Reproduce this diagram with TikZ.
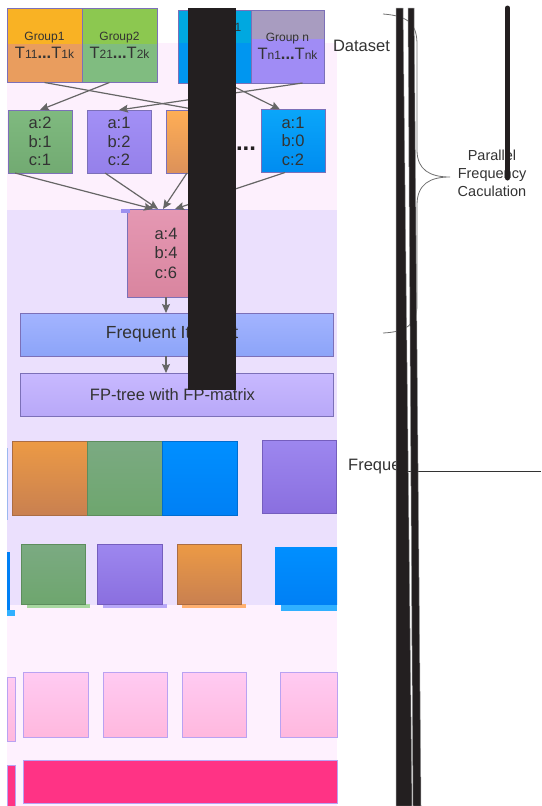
\documentclass[tikz,border=0pt]{standalone}
\usepackage{fontspec}
\setmainfont{Liberation Sans}
\usetikzlibrary{arrows.meta,calc}

\definecolor{txt}{HTML}{333333}
\definecolor{arrc}{HTML}{666666}
\definecolor{barc}{HTML}{231F20}
\definecolor{barline}{HTML}{909090}
\definecolor{bracec}{HTML}{707070}
\definecolor{bordc}{HTML}{7C70B8}
\definecolor{bgtop}{HTML}{FDF0FD}
\definecolor{bglav}{HTML}{EBE0FD}
\definecolor{bgbot}{HTML}{FEF1FE}
\definecolor{goldt}{HTML}{F9B224}
\definecolor{orgl}{HTML}{E99D5E}
\definecolor{grnt}{HTML}{8CC850}
\definecolor{grnl}{HTML}{80BC80}
\definecolor{cyant}{HTML}{00A8E0}
\definecolor{cyanl}{HTML}{0096F0}
\definecolor{grayt}{HTML}{A89CC0}
\definecolor{purl}{HTML}{A08CF5}
\definecolor{greent}{HTML}{7FBA7F}
\definecolor{greenb}{HTML}{72AA72}
\definecolor{violt}{HTML}{A290F6}
\definecolor{violb}{HTML}{9580EA}
\definecolor{oranget}{HTML}{FFAE55}
\definecolor{orangeb}{HTML}{DC915A}
\definecolor{bluet}{HTML}{0AA6FA}
\definecolor{blueb}{HTML}{008CF0}
\definecolor{pinkt}{HTML}{E598B3}
\definecolor{pinkb}{HTML}{D9859F}
\definecolor{markc}{HTML}{9C90F0}
\definecolor{fitop}{HTML}{A3B4FF}
\definecolor{fibot}{HTML}{8CA4F8}
\definecolor{fptop}{HTML}{C8B9FF}
\definecolor{fpbot}{HTML}{B8A8F8}
\definecolor{torg}{HTML}{EC9A45}
\definecolor{borg}{HTML}{C98050}
\definecolor{tgrn}{HTML}{7BAA82}
\definecolor{bgrn}{HTML}{6EA66E}
\definecolor{tblu}{HTML}{008FFF}
\definecolor{bblu}{HTML}{0080F5}
\definecolor{tvio}{HTML}{9D87EF}
\definecolor{bvio}{HTML}{8A6FDF}
\definecolor{edgec}{HTML}{9CB8F0}
\definecolor{sblu}{HTML}{30B0FF}
\definecolor{sgrn}{HTML}{A8D8A0}
\definecolor{svio}{HTML}{B8A8F8}
\definecolor{sorg}{HTML}{FFB070}
\definecolor{tilet}{HTML}{FFCBF2}
\definecolor{tileb}{HTML}{FFB8DE}
\definecolor{tileline}{HTML}{B9A2F2}
\definecolor{hotpink}{HTML}{FF3385}

\newcommand\grpsub[1]{{\fontsize{12}{14}\selectfont #1}}

\begin{document}
\begin{tikzpicture}[x=1pt,y=-1pt,
    box/.style={draw=#1, line width=0.7pt, inner sep=0pt, outer sep=0pt,
      text=txt, align=center, font=\fontsize{16.5}{18.5}\selectfont},
    box/.default=bordc,
    grp/.style n args={3}{box=bordc, fill=#2, minimum width=75pt, minimum height=74pt,
      path picture={\fill[#1] (path picture bounding box.north west)
        rectangle ([yshift=-#3pt]path picture bounding box.north east);}},
    cnt/.style 2 args={box, top color=#1, bottom color=#2, minimum width=64pt, minimum height=63pt},
    tile/.style 2 args={draw=#2!85!black, line width=0.7pt, top color=#1, bottom color=#2},
    arr/.style={draw=arrc, line width=1.2pt, -{Stealth[length=9pt,width=8pt,inset=1.5pt]}}]
  \useasboundingbox (0,0) rectangle (541,806);
  % backgrounds
  \fill[bgtop] (7,43) rectangle (337,210);
  \fill[bglav] (7,210) rectangle (337,605);
  \fill[bgbot] (7,605) rectangle (337,806);

  % dataset groups
  \node[grp={goldt}{orgl}{35}] at (44.5,45.5) (g1)
    {\fontsize{12}{18}\selectfont Group1\\\fontsize{16.5}{18}\selectfont T\grpsub{11}\textbf{...}T\grpsub{1k}};
  \node[grp={grnt}{grnl}{35}] at (119.5,45.5) (g2)
    {\fontsize{12}{18}\selectfont Group2\\\fontsize{16.5}{18}\selectfont T\grpsub{21}\textbf{...}T\grpsub{2k}};
  \node[grp={cyant}{cyanl}{33}, minimum width=73pt, minimum height=73pt] at (214.5,46.5) (g3) {};
  \node[grp={grayt}{purl}{29}, minimum width=73pt, minimum height=73pt] at (287.5,46.5) (gn)
    {\fontsize{12}{18}\selectfont Group n\\\fontsize{16.5}{18}\selectfont T\grpsub{n1}\textbf{...}T\grpsub{nk}};
  \node[text=txt, font=\fontsize{12}{14}\selectfont, inner sep=0pt] at (238,27) (g3t) {1};

  % counts
  \node[cnt={greent}{greenb}] at (40,141.5) (c1) {a:2\\b:1\\c:1};
  \node[cnt={violt}{violb}] at (119,141.5) (c2) {a:1\\b:2\\c:2};
  \node[cnt={oranget}{orangeb}] at (198,141.5) (c3) {};
  \node[cnt={bluet}{blueb}] at (293,141) (c4) {a:1\\b:0\\c:2};
  \node[text=barc, font=\fontsize{24}{26}\selectfont\bfseries, inner sep=0pt] at (246,149) (dots) {...};
  \draw[arr] (g1.south) -- (c3.north);
  \draw[arr] ([xshift=-10pt]g2.south) -- (c1.north);
  \draw[arr] ([xshift=12pt]g3.south) -- ([xshift=-13pt]c4.north);
  \draw[arr] ([xshift=15pt]gn.south) -- (c2.north);

  % merged counts
  \node[box, top color=pinkt, bottom color=pinkb, minimum width=78pt, minimum height=88pt,
    font=\fontsize{16.5}{19.5}\selectfont] at (166,253) (pk) {a:4\\b:4\\c:6};
  \draw[arr] ([xshift=-25pt]c1.south) -- ([xshift=-13pt]pk.north);
  \draw[arr] ([xshift=-14pt]c2.south) -- ([xshift=-8pt]pk.north);
  \draw[arr] ([xshift=-11pt]c3.south) -- ([xshift=-3pt]pk.north);
  \draw[arr] ([xshift=-8pt]c4.south) -- ([xshift=9pt]pk.north);
  \fill[markc] (121,209) rectangle (130,213);

  \node[box, top color=fitop, bottom color=fibot, minimum width=313pt, minimum height=43pt,
    font=\fontsize{17.5}{19}\selectfont] at (176.5,334.5) (fi) {Frequent Itemset\hspace*{9pt}};
  \node[box, top color=fptop, bottom color=fpbot, minimum width=313pt, minimum height=43pt]
    at (176.5,394.5) (fp) {FP-tree with FP-matrix\hspace*{8pt}};
  \draw[arr] (pk.south) -- (pk.south |- fi.north);
  \draw[arr] (fi.south -| pk.south) -- (pk.south |- fp.north);

  % tiles
  \draw[tile={torg}{borg}] (12,441) rectangle (87,515);
  \draw[tile={tgrn}{bgrn}] (87,441) rectangle (162,515);
  \draw[tile={tblu}{bblu}] (162,441) rectangle (237,515);
  \draw[tile={tvio}{bvio}] (262,440) rectangle (336,513);
  \fill[edgec] (7,448) rectangle (8,520);

  \fill[sblu] (7,610) rectangle (15,616);
  \fill[bblu] (7,552) rectangle (10,610);
  \fill[sgrn] (27,604) rectangle (90,608);
  \fill[svio] (103,604) rectangle (167,608);
  \fill[sorg] (182,604) rectangle (246,608);
  \fill[sblu] (281,604) rectangle (337,611);
  \draw[tile={tgrn}{bgrn}] (21,544) rectangle (85,604);
  \draw[tile={tvio}{bvio}] (97,544) rectangle (162,604);
  \draw[tile={torg}{borg}] (177,544) rectangle (241,604);
  \fill[top color=tblu, bottom color=bblu] (275,547) rectangle (337,604);

  \draw[tile={tilet}{tileb}, draw=tileline] (7,677) rectangle (15,741);
  \draw[tile={tilet}{tileb}, draw=tileline] (23,672) rectangle (88,737);
  \draw[tile={tilet}{tileb}, draw=tileline] (103,672) rectangle (167,737);
  \draw[tile={tilet}{tileb}, draw=tileline] (182,672) rectangle (246,737);
  \draw[tile={tilet}{tileb}, draw=tileline] (280,672) rectangle (337,737);
  \draw[fill=hotpink, draw=tileline, line width=0.7pt] (7,765) rectangle (15,806);
  \draw[fill=hotpink, draw=tileline, line width=0.7pt] (23,760) rectangle (337,803);

  \fill[barc] (188,8) rectangle (236,390);

  % right side
  \node[text=txt, font=\fontsize{16.5}{18}\selectfont, inner sep=0pt] at (361.5,46) (ds) {Dataset};
  \draw[bracec, line width=0.8pt] (383,14) .. controls (410,16) and (417,25) .. (417,45)
    -- (417,150) .. controls (417,170) and (430,177) .. (450,177)
    .. controls (430,177) and (417,184) .. (417,205)
    -- (417,305) .. controls (417,325) and (405,332) .. (383,333);
  \node[text=txt, align=center, font=\fontsize{14.5}{18}\selectfont, inner sep=0pt]
    at (492,173.5) (pfc) {Parallel\\Frequency\\Caculation};
  \draw[barc, line width=5pt, line cap=round] (507.5,8) -- (507.5,178);
  \node[text=txt, anchor=west, font=\fontsize{16.5}{18}\selectfont, inner sep=0pt] at (348,467) (fq) {Freque};
  \coordinate (fqend) at (541,471.5);
  \draw[txt, line width=1pt] ([xshift=2pt]fq.east |- fqend) -- (fqend);
  \draw[fill=barc, draw=barline, line width=0.5pt] (396,8) -- (403,8) -- (412,806) -- (396,806) -- cycle;
  \draw[fill=barc, draw=barline, line width=0.5pt] (408,8) -- (414,8) -- (421,806) -- (413,806) -- cycle;
\end{tikzpicture}
\end{document}
